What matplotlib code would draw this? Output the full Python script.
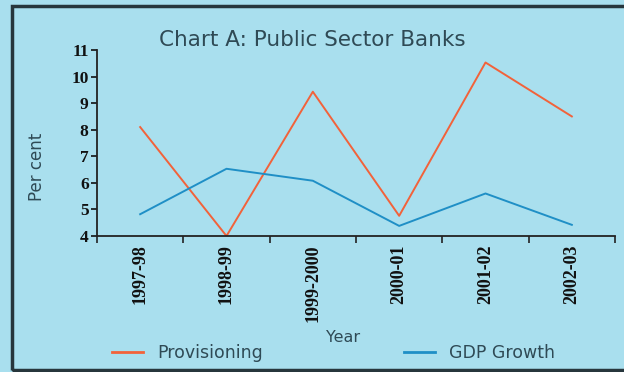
import matplotlib
matplotlib.use("Agg")
import matplotlib.pyplot as plt
from matplotlib.patches import Rectangle
import numpy as np

years = ["1997-98", "1998-99", "1999-2000", "2000-01", "2001-02", "2002-03"]
provisioning = [8.1, 4.0, 9.43, 4.76, 10.53, 8.5]
gdp_growth = [4.82, 6.53, 6.08, 4.38, 5.6, 4.42]
yticks = [4, 5, 6, 7, 8, 9, 10, 11]

BG = "#A9DFEE"
TXT = "#2f4a55"
W, H = 624, 372
fig = plt.figure(figsize=(W / 100, H / 100), dpi=100, facecolor=BG)

# frame border (right side runs off the image)
fig.patches.append(Rectangle((12 / W, 2 / H), 1.3, (364) / H, transform=fig.transFigure,
                             fill=False, edgecolor="#27363c", linewidth=2.5, clip_on=False))

ax = fig.add_axes([97 / W, 1 - 236 / H, (615 - 97) / W, (236 - 50) / H])
ax.set_facecolor(BG)
x = np.arange(len(years))
ax.plot(x, provisioning, color="#F2623A", lw=1.4, label="Provisioning")
ax.plot(x, gdp_growth, color="#1F8FC6", lw=1.4, label="GDP Growth")

ax.set_xlim(-0.5, len(years) - 0.5)
ax.set_ylim(4, 11)
for s in ["top", "right"]:
    ax.spines[s].set_visible(False)
for s in ["left", "bottom"]:
    ax.spines[s].set_color("#222222")
    ax.spines[s].set_linewidth(1.3)

ax.set_yticks(yticks)
ax.set_yticklabels([str(v) for v in yticks], fontfamily="Liberation Serif",
                   fontweight="bold", fontsize=12.5)
ax.tick_params(axis="y", direction="out", length=4, width=1.2, pad=2, colors="#111111")

ax.set_xticks(np.arange(-0.5, len(years), 1.0))
ax.set_xticklabels([])
ax.set_xticks(x, minor=True)
ax.set_xticklabels(years, minor=True, rotation=90, fontfamily="Liberation Serif",
                   fontweight="bold", fontsize=13, va="top")
ax.tick_params(axis="x", which="major", direction="out", length=5, width=1.2, colors="#222222")
ax.tick_params(axis="x", which="minor", length=0, pad=6, colors="#111111")

fig.text(37 / W, 1 - 167 / H, "Per cent", rotation=90, ha="center", va="center",
         fontfamily="DejaVu Sans", fontsize=12, color=TXT)
fig.text(343 / W, 1 - 338 / H, "Year", ha="center", va="center",
         fontfamily="DejaVu Sans", fontsize=11.5, color=TXT)
fig.text(312 / W, 1 - 40 / H, "Chart A: Public Sector Banks", ha="center", va="center",
         fontfamily="DejaVu Sans", fontsize=15.5, color=TXT)

leg = fig.legend(loc="center left", bbox_to_anchor=(112 / W, 1 - 353 / H), ncol=2,
                 frameon=False, handlelength=1.8, handletextpad=0.8, columnspacing=8.1,
                 prop={"family": "DejaVu Sans", "size": 12.5}, borderaxespad=0, borderpad=0)
for t in leg.get_texts():
    t.set_color(TXT)
for l in leg.get_lines():
    l.set_linewidth(2)

fig.savefig("out.png", dpi=100, facecolor=BG)
